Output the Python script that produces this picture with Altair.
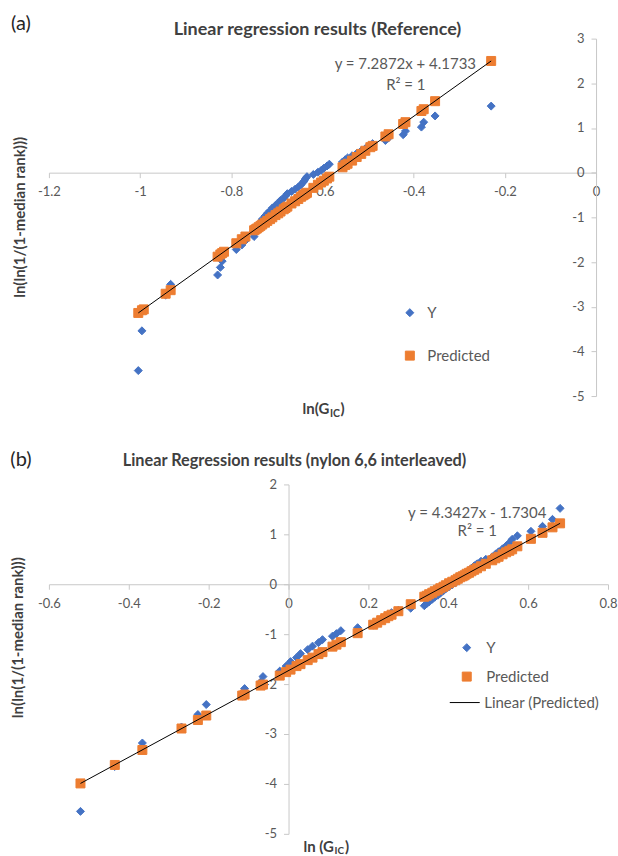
import altair as alt
import pandas as pd

# ---------------- data: panel (a) ----------------
a_x = [-1.004, -0.996, -0.992, -0.944, -0.933, -0.830, -0.824, -0.820, -0.816, -0.789,
       -0.777, -0.769, -0.750, -0.747, -0.744, -0.740, -0.736, -0.732, -0.726, -0.721,
       -0.715, -0.710, -0.703, -0.697, -0.692, -0.685, -0.681, -0.677, -0.668, -0.660,
       -0.653, -0.647, -0.643, -0.640, -0.637, -0.634, -0.620, -0.610, -0.603, -0.597,
       -0.590, -0.585, -0.556, -0.550, -0.545, -0.535, -0.525, -0.515, -0.506, -0.495,
       -0.490, -0.462, -0.455, -0.423, -0.418, -0.383, -0.378, -0.353, -0.230]
a_y = [-4.43, -3.54, -3.07, -2.74, -2.50, -2.29, -2.12, -1.98, -1.84, -1.72,
       -1.62, -1.52, -1.43, -1.34, -1.26, -1.18, -1.11, -1.04, -0.97, -0.91,
       -0.85, -0.79, -0.73, -0.68, -0.62, -0.57, -0.52, -0.47, -0.42, -0.37,
       -0.32, -0.27, -0.22, -0.18, -0.13, -0.09, -0.04, 0.01, 0.05, 0.10,
       0.15, 0.19, 0.24, 0.29, 0.33, 0.38, 0.43, 0.49, 0.54, 0.60,
       0.65, 0.72, 0.78, 0.85, 0.93, 1.02, 1.13, 1.27, 1.49]
a_pred = [-3.14, -3.08, -3.06, -2.71, -2.63, -1.88, -1.83, -1.80, -1.77, -1.58,
          -1.49, -1.43, -1.29, -1.27, -1.25, -1.22, -1.19, -1.16, -1.12, -1.08,
          -1.04, -1.00, -0.95, -0.91, -0.87, -0.82, -0.79, -0.76, -0.69, -0.64,
          -0.59, -0.54, -0.51, -0.49, -0.47, -0.45, -0.34, -0.27, -0.22, -0.18,
          -0.13, -0.09, 0.12, 0.17, 0.20, 0.27, 0.35, 0.42, 0.49, 0.57,
          0.60, 0.81, 0.86, 1.09, 1.13, 1.38, 1.42, 1.60, 2.50]
a_line_x = [-1.004, -0.230]
a_line_y = [-3.14, 2.50]
a_xticks = [-1.2, -1.0, -0.8, -0.6, -0.4, -0.2, 0]
a_yticks = [3, 2, 1, 0, -1, -2, -3, -4, -5]

# ---------------- data: panel (b) ----------------
b_x = [-0.521, -0.435, -0.366, -0.268, -0.227, -0.206, -0.116, -0.110, -0.070, -0.064,
       -0.022, -0.006, 0.005, 0.020, 0.030, 0.048, 0.060, 0.075, 0.085, 0.110,
       0.120, 0.131, 0.173, 0.212, 0.222, 0.232, 0.242, 0.250, 0.258, 0.275,
       0.306, 0.340, 0.346, 0.352, 0.360, 0.366, 0.374, 0.380, 0.388, 0.394,
       0.402, 0.410, 0.418, 0.424, 0.430, 0.436, 0.441, 0.446, 0.452, 0.458,
       0.465, 0.472, 0.482, 0.494, 0.510, 0.518, 0.526, 0.536, 0.545, 0.553,
       0.560, 0.573, 0.607, 0.636, 0.661, 0.680]
b_y = [-4.55, -3.65, -3.18, -2.86, -2.61, -2.41, -2.24, -2.09, -1.96, -1.85,
       -1.74, -1.64, -1.55, -1.47, -1.39, -1.31, -1.24, -1.17, -1.11, -1.04,
       -0.99, -0.93, -0.87, -0.82, -0.77, -0.71, -0.67, -0.62, -0.57, -0.52,
       -0.48, -0.43, -0.39, -0.35, -0.30, -0.26, -0.22, -0.18, -0.13, -0.09,
       -0.05, -0.01, 0.03, 0.07, 0.11, 0.15, 0.20, 0.24, 0.28, 0.32,
       0.37, 0.41, 0.46, 0.50, 0.55, 0.60, 0.65, 0.71, 0.77, 0.83,
       0.90, 0.97, 1.06, 1.16, 1.30, 1.52]
b_pred = [-3.99, -3.62, -3.32, -2.89, -2.72, -2.63, -2.23, -2.21, -2.03, -2.01,
          -1.83, -1.76, -1.71, -1.64, -1.60, -1.52, -1.47, -1.40, -1.36, -1.25,
          -1.21, -1.16, -0.98, -0.81, -0.77, -0.72, -0.68, -0.64, -0.61, -0.54,
          -0.40, -0.25, -0.23, -0.20, -0.17, -0.14, -0.11, -0.08, -0.05, -0.02,
          0.02, 0.05, 0.08, 0.11, 0.14, 0.16, 0.18, 0.21, 0.23, 0.26,
          0.29, 0.32, 0.36, 0.41, 0.48, 0.52, 0.55, 0.60, 0.64, 0.67,
          0.70, 0.76, 0.91, 1.03, 1.14, 1.22]
b_line_x = [-0.521, 0.680]
b_line_y = [-3.99, 1.22]
b_xticks = [-0.6, -0.4, -0.2, 0, 0.2, 0.4, 0.6, 0.8]
b_yticks = [2, 1, 0, -1, -2, -3, -4, -5]

series_names = ["Y", "Predicted"]
trend_name = "Linear (Predicted)"

BLUE = "#4472C4"
ORANGE = "#ED7D31"
FONT = "Lato"
LABEL = "#595959"
TITLE = "#404040"
AXIS = "#C8C8C8"
LABEL_EXPR = "'' + datum.value"


def points_df(xs, ys, preds):
    rows = [{"x": x, "v": y, "series": "Y"} for x, y in zip(xs, ys)]
    rows += [{"x": x, "v": p, "series": "Predicted"} for x, p in zip(xs, preds)]
    return pd.DataFrame(rows)


def txt(s, x, y, size=13, weight="normal", color=TITLE, align="center", angle=0, baseline="middle"):
    return alt.Chart(alt.Data(values=[{}])).mark_text(
        text=s, font=FONT, fontSize=size, fontWeight=weight, color=color,
        align=align, baseline=baseline, angle=angle
    ).encode(x=alt.value(x), y=alt.value(y))


def anchor(x, y):
    # white 1px corner marker that pins the page's top-left corner
    return alt.Chart(alt.Data(values=[{}])).mark_rule(color="white", strokeWidth=1).encode(
        x=alt.value(x), x2=alt.value(x + 1), y=alt.value(y), y2=alt.value(y)
    )


def panel(xs, ys, preds, lx, ly, xdom, ydom, xticks, yticks, W, H,
          xoff, yoff, legX, legY, rowPad, labOff, texts, line_legend=None):
    dom = series_names
    fills = [BLUE, ORANGE]
    leg = alt.Legend(orient="none", legendX=legX, legendY=legY, title=None,
                     labelFont=FONT, labelFontSize=15, labelColor=LABEL,
                     rowPadding=rowPad, labelOffset=labOff, symbolStrokeWidth=1,
                     padding=0, direction="vertical")
    xs_scale = alt.Scale(domain=xdom, nice=False, zero=False)
    ys_scale = alt.Scale(domain=ydom, nice=False, zero=False)
    xaxis = alt.Axis(values=xticks, labelExpr=LABEL_EXPR, offset=xoff, orient="bottom",
                     title=None, grid=False, domainColor=AXIS, tickColor=AXIS,
                     tickSize=5, labelPadding=8, labelFont=FONT, labelFontSize=13,
                     labelColor=LABEL, labelFlush=False, labelOverlap=False, labelBound=False)
    yaxis = alt.Axis(values=yticks, labelExpr=LABEL_EXPR, offset=yoff, orient="left",
                     title=None, grid=False, domainColor=AXIS, tickColor=AXIS,
                     tickSize=5, labelPadding=7, labelFont=FONT, labelFontSize=13,
                     labelColor=LABEL, labelFlush=False, labelOverlap=False, labelBound=False)
    pts = alt.Chart(points_df(xs, ys, preds)).mark_point(
        filled=True, opacity=1, strokeWidth=1
    ).encode(
        x=alt.X("x:Q", scale=xs_scale, axis=xaxis),
        y=alt.Y("v:Q", scale=ys_scale, axis=yaxis),
        fill=alt.Fill("series:N", scale=alt.Scale(domain=dom, range=fills), legend=leg),
        stroke=alt.Stroke("series:N", scale=alt.Scale(domain=dom, range=fills), legend=leg),
        shape=alt.Shape("series:N", scale=alt.Scale(domain=dom, range=["diamond", "square"]), legend=leg),
        size=alt.Size("series:N", scale=alt.Scale(domain=dom, range=[64, 81]), legend=leg),
    )
    line_df = pd.DataFrame({"x": lx, "v": ly, "lbl": [trend_name] * len(lx)})
    if line_legend is None:
        color_enc = alt.value("black")
    else:
        lX, lY, lOff = line_legend
        color_enc = alt.Color("lbl:N", scale=alt.Scale(domain=[trend_name], range=["black"]),
                              legend=alt.Legend(orient="none", legendX=lX, legendY=lY, title=None,
                                                labelFont=FONT, labelFontSize=15, labelColor=LABEL,
                                                labelOffset=lOff, symbolType="stroke", symbolSize=900,
                                                symbolStrokeWidth=1, padding=0))
    line = alt.Chart(line_df).mark_line(strokeWidth=1).encode(
        x=alt.X("x:Q", scale=xs_scale, axis=xaxis),
        y=alt.Y("v:Q", scale=ys_scale, axis=yaxis),
        color=color_enc,
    )
    return alt.layer(pts, line, *texts).properties(width=W, height=H)


# panel (a): plot area 548 x 358, x=0 at right edge, y=0 at 3/8 height
WA, HA = 548, 358
texts_a = [
    anchor(-48, -36.75),
    txt("(a)", -28, -14.5, size=20, color="#262626"),
    txt("Linear regression results (Reference)", 269, -8.5, size=18, weight="bold"),
    txt("y = 7.2872x + 4.1733", 357, 25.5, size=15, color=LABEL),
    txt("R² = 1", 357.5, 46, size=15, color=LABEL),
    txt("ln(ln(1/(1-median rank)))", -29, 179, size=15, weight="bold", angle=270),
    txt("ln(G", 281, 371, size=15, weight="bold", align="right"),
    txt("IC", 281.5, 376, size=10.5, weight="bold", align="left"),
    txt(")", 292, 371, size=15, weight="bold", align="left"),
]
chart_a = panel(a_x, a_y, a_pred, a_line_x, a_line_y, [-1.2, 0], [-5, 3],
                a_xticks, a_yticks, WA, HA, -(HA - HA * 3 / 8), -WA,
                354, 267, 27, 10, texts_a)

# panel (b): plot area 560 x 350, x=0 at 0.6/1.4 width, y=0 at 2/7 height
WB, HB = 560, 350
texts_b = [
    txt("(b)", -28, -24.5, size=20, color="#262626"),
    txt("Linear Regression results (nylon 6,6 interleaved)", 246, -23.5, size=16.3, weight="bold"),
    txt("y = 4.3427x - 1.7304", 429, 29, size=15, color=LABEL),
    txt("R² = 1", 429, 47, size=15, color=LABEL),
    txt("ln(ln(1/(1-median rank)))", -30.5, 153.5, size=15, weight="bold", angle=270),
    txt("ln (G", 285.5, 363.5, size=15, weight="bold", align="right"),
    txt("IC", 286, 367.5, size=10, weight="bold", align="left"),
    txt(")", 296.5, 363.5, size=15, weight="bold", align="left"),
]
chart_b = panel(b_x, b_y, b_pred, b_line_x, b_line_y, [-0.6, 0.8], [-5, 2],
                b_xticks, b_yticks, WB, HB, -(HB - HB * 2 / 7), -(WB * 0.6 / 1.4),
                411, 156, 13, 12, texts_b, line_legend=(401, 203, 4))

ind = "independent"
chart = alt.vconcat(chart_a, chart_b, spacing=88.5, bounds="flush").resolve_scale(
    fill=ind, stroke=ind, shape=ind, size=ind, color=ind
).resolve_legend(
    fill=ind, stroke=ind, shape=ind, size=ind, color=ind
).properties(
    padding=0,
).configure_view(stroke=None)

chart.save("out.html", embed_options={"renderer": "svg", "actions": False})
